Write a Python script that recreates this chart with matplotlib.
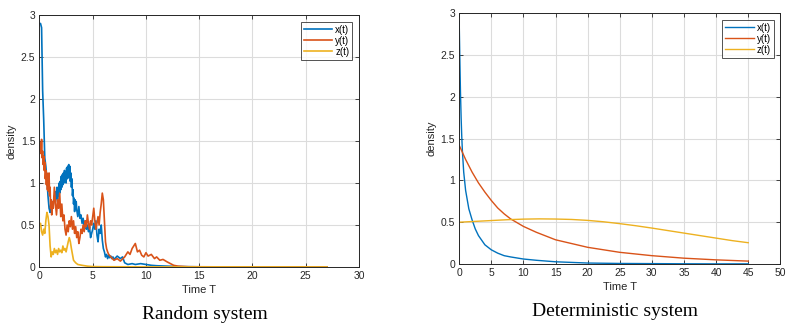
import numpy as np
import matplotlib.pyplot as plt

# ---- random system ----
t_rx = [0.0, 0.1, 0.2, 0.3, 0.4, 0.5, 0.6, 0.7, 0.8, 0.9,
        1.0, 1.1, 1.2, 1.3, 1.4,
        1.50, 1.55, 1.60, 1.65, 1.70, 1.75, 1.80, 1.85, 1.90, 1.95,
        2.00, 2.05, 2.10, 2.15, 2.20, 2.25, 2.30, 2.35, 2.40, 2.45,
        2.50, 2.55, 2.60, 2.65, 2.70, 2.75, 2.80, 2.85, 2.90, 2.95,
        3.00, 3.05, 3.10, 3.15, 3.20, 3.25, 3.30, 3.35, 3.40, 3.45, 3.50,
        3.6, 3.7, 3.8, 3.9,
        4.0, 4.1, 4.2, 4.3, 4.4, 4.5, 4.6, 4.7, 4.8, 4.9,
        5.0, 5.1, 5.2, 5.3, 5.4, 5.5, 5.6, 5.7, 5.8, 5.9,
        6.0, 6.1, 6.2, 6.3, 6.4, 6.5, 6.6, 6.7, 6.8, 6.9,
        7.0, 7.3, 7.6, 7.8, 8.0, 8.3, 8.7, 9.0, 9.5, 10.0,
        10.5, 11.0, 12.0, 13.0, 15.0, 20.0, 27.0]
x_rand = [2.90, 2.90, 2.85, 2.10, 1.75, 1.30, 1.20, 1.05, 0.85, 0.70,
          0.65, 0.80, 0.70, 0.75, 0.85,
          0.78, 0.90, 0.82, 0.95, 0.80, 0.92, 0.85, 1.00, 0.88, 1.02,
          0.92, 1.08, 0.95, 1.10, 0.98, 1.12, 1.00, 1.15, 1.02, 1.12,
          1.00, 1.18, 1.05, 1.20, 1.06, 1.22, 1.08, 1.20, 1.02, 1.12,
          0.95, 1.05, 0.85, 0.92, 0.75, 0.82, 0.66, 0.80, 0.70, 0.78, 0.68,
          0.60, 0.72, 0.58, 0.62,
          0.52, 0.58, 0.48, 0.55, 0.45, 0.50, 0.42, 0.48, 0.35, 0.40,
          0.45, 0.52, 0.45, 0.55, 0.38, 0.30, 0.45, 0.40, 0.50, 0.32,
          0.22, 0.18, 0.12, 0.15, 0.10, 0.14, 0.11, 0.13, 0.10, 0.12,
          0.09, 0.13, 0.10, 0.12, 0.05, 0.03, 0.04, 0.03, 0.04, 0.03,
          0.02, 0.015, 0.01, 0.005, 0.002, 0.0, 0.0]

t_ry = [0.00, 0.05, 0.10, 0.15, 0.20, 0.25, 0.30, 0.35, 0.40, 0.45,
        0.50, 0.55, 0.60, 0.65, 0.70, 0.75, 0.80, 0.85, 0.90, 0.95,
        1.00, 1.05, 1.10, 1.15, 1.20,
        1.3, 1.4, 1.5, 1.6, 1.7, 1.8, 1.9,
        2.0, 2.1, 2.2, 2.3, 2.4, 2.5, 2.6, 2.7, 2.8, 2.9,
        3.0, 3.1, 3.2, 3.3, 3.4, 3.5, 3.6, 3.7, 3.8, 3.9,
        4.0, 4.1, 4.2, 4.3, 4.4, 4.5, 4.6, 4.7, 4.8, 4.9,
        5.0, 5.1, 5.2, 5.3, 5.4, 5.5, 5.6, 5.7, 5.8, 5.9,
        6.0, 6.1, 6.2, 6.3, 6.4, 6.5, 6.7, 7.0, 7.3, 7.6,
        8.0, 8.3, 8.5, 8.7, 9.0, 9.2, 9.4, 9.6, 9.8, 10.0,
        10.2, 10.5, 10.8, 11.0, 11.3, 11.6, 12.0, 12.3, 12.6, 13.0,
        14.0, 20.0, 27.0]
y_rand = [1.45, 1.38, 1.48, 1.35, 1.52, 1.30, 1.38, 1.22, 1.32, 1.15,
          1.25, 1.05, 1.15, 0.98, 1.12, 0.92, 1.05, 0.90, 1.12, 0.85,
          0.95, 0.70, 0.80, 0.62, 0.78,
          0.70, 0.95, 0.75, 0.62, 0.80, 0.70, 0.88,
          0.60, 0.75, 0.55, 0.62, 0.45, 0.38, 0.50, 0.42, 0.55, 0.48,
          0.60, 0.45, 0.55, 0.40, 0.48, 0.35, 0.42, 0.28, 0.35, 0.45,
          0.40, 0.50, 0.42, 0.55, 0.48, 0.62, 0.52, 0.45, 0.55, 0.50,
          0.60, 0.70, 0.55, 0.45, 0.52, 0.60, 0.50, 0.65, 0.75, 0.88,
          0.80, 0.55, 0.30, 0.22, 0.18, 0.15, 0.12, 0.08, 0.10, 0.07,
          0.12, 0.18, 0.15, 0.22, 0.28, 0.18, 0.20, 0.14, 0.12, 0.17,
          0.13, 0.15, 0.10, 0.12, 0.08, 0.09, 0.06, 0.04, 0.02, 0.01,
          0.003, 0.0, 0.0]

t_rz = [0.0, 0.1, 0.2, 0.3, 0.4, 0.5, 0.6, 0.7, 0.8, 0.9,
        1.0, 1.1, 1.2, 1.3, 1.4, 1.5, 1.6, 1.7, 1.8, 1.9,
        2.0, 2.1, 2.2, 2.3, 2.4, 2.5, 2.6, 2.7, 2.8, 2.9,
        3.0, 3.1, 3.2, 3.4, 3.6, 4.0, 4.5, 5.0, 6.0, 10.0, 27.0]
z_rand = [0.50, 0.52, 0.42, 0.38, 0.45, 0.40, 0.55, 0.65, 0.60, 0.50,
          0.25, 0.12, 0.18, 0.15, 0.22, 0.17, 0.20, 0.15, 0.22, 0.18,
          0.20, 0.17, 0.25, 0.20, 0.22, 0.18, 0.24, 0.30, 0.35, 0.30,
          0.22, 0.15, 0.08, 0.05, 0.03, 0.02, 0.01, 0.005, 0.003, 0.001, 0.0]

# ---- deterministic system ----
t_dx = [0, 0.1, 0.2, 0.3, 0.4, 0.5, 0.7, 1.0, 1.5, 2, 2.5, 3, 4, 5, 6, 7,
        8, 10, 12, 15, 20, 25, 30, 35, 40, 45]
x_det = [2.90, 2.45, 2.05, 1.75, 1.52, 1.35, 1.10, 0.88, 0.66, 0.53, 0.42,
         0.34, 0.23, 0.17, 0.13, 0.10, 0.085, 0.06, 0.045, 0.027, 0.012,
         0.007, 0.005, 0.003, 0.002, 0.002]

t_dy = [0, 1, 2, 3, 4, 5, 6, 7, 8, 10, 12, 15, 20, 25, 30, 35, 40, 45]
y_det = [1.42, 1.25, 1.10, 0.97, 0.86, 0.76, 0.67, 0.60, 0.54, 0.45,
         0.38, 0.29, 0.20, 0.14, 0.10, 0.07, 0.05, 0.035]

t_dz = [0, 2.5, 5, 7.5, 10, 12.5, 15, 17.5, 20, 22.5, 25, 27.5, 30,
        32.5, 35, 37.5, 40, 42.5, 45]
z_det = [0.50, 0.51, 0.52, 0.53, 0.537, 0.54, 0.538, 0.533, 0.522, 0.505,
         0.483, 0.458, 0.43, 0.40, 0.37, 0.34, 0.31, 0.28, 0.255]

colors = ['#0072BD', '#D95319', '#EDB120']
labels = ['x(t)', 'y(t)', 'z(t)']
dark = '#262626'

plt.rcParams['font.family'] = 'Liberation Sans'

fig = plt.figure(figsize=(7.89, 3.28), dpi=100)
ax1 = fig.add_axes([0.050, 0.186, 0.405, 0.768])
ax2 = fig.add_axes([0.582, 0.195, 0.407, 0.765])


def style(ax, xmax, xticks):
    ax.set_xlim(0, xmax)
    ax.set_ylim(0, 3)
    ax.set_xticks(xticks)
    ax.set_yticks([0, 0.5, 1, 1.5, 2, 2.5, 3])
    ax.set_yticklabels(['0', '0.5', '1', '1.5', '2', '2.5', '3'])
    ax.grid(True, color='#dcdcdc', linewidth=0.8)
    ax.set_axisbelow(True)
    ax.tick_params(direction='in', length=3, width=0.6, labelsize=7.5,
                   colors=dark, top=True, right=True, pad=3)
    for s in ax.spines.values():
        s.set_color(dark)
        s.set_linewidth(0.7)
    ax.set_xlabel('Time T', fontsize=8, color=dark, labelpad=3)
    ax.set_ylabel('density', fontsize=8, color=dark, labelpad=3)
    leg = ax.legend(loc='upper right', fontsize=7, frameon=True, fancybox=False,
                    edgecolor=dark, handlelength=2.9, handletextpad=0.3,
                    borderpad=0.3, labelspacing=0.1, borderaxespad=0.7)
    leg.get_frame().set_linewidth(0.7)


ax1.plot(t_rx, x_rand, color=colors[0], lw=1.2, label=labels[0])
ax1.plot(t_ry, y_rand, color=colors[1], lw=1.2, label=labels[1])
ax1.plot(t_rz, z_rand, color=colors[2], lw=1.2, label=labels[2])
style(ax1, 30, [0, 5, 10, 15, 20, 25, 30])

ax2.plot(t_dx, x_det, color=colors[0], lw=1.0, label=labels[0])
ax2.plot(t_dy, y_det, color=colors[1], lw=1.0, label=labels[1])
ax2.plot(t_dz, z_det, color=colors[2], lw=1.0, label=labels[2])
style(ax2, 50, [0, 5, 10, 15, 20, 25, 30, 35, 40, 45, 50])

fig.text(0.26, 0.04, 'Random system', ha='center', va='center',
         fontsize=14, family='Liberation Serif')
fig.text(0.78, 0.05, 'Deterministic system', ha='center', va='center',
         fontsize=14, family='Liberation Serif')

fig.savefig('out.png', dpi=100)
